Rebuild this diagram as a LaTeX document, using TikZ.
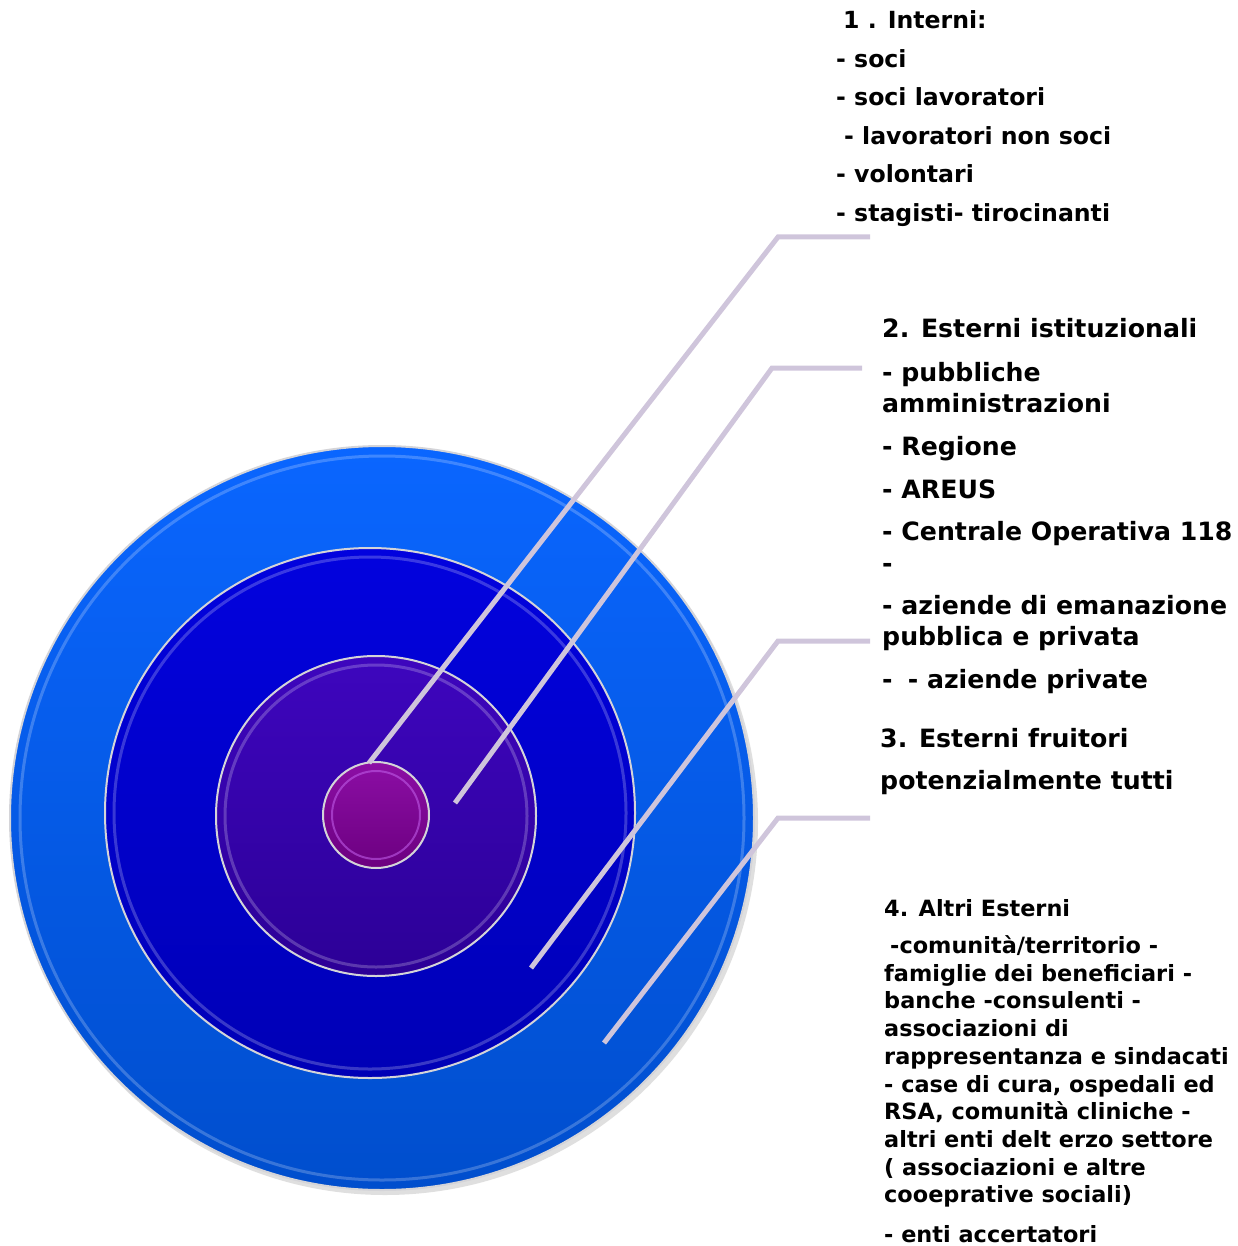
\documentclass[tikz,border=0pt]{standalone}
\usepackage{fontspec}
\setmainfont{DejaVu Sans}
\definecolor{rimgray}{HTML}{D4D4D8}
\definecolor{conncol}{HTML}{CFC5DB}
\begin{document}
\begin{tikzpicture}[x=1pt,y=-1pt,
  ring/.style={circle, draw=rimgray, line width=2pt, inner sep=0pt, outer sep=0pt},
  bevel/.style={draw=white, line width=3pt, opacity=0.22},
  conn/.style={draw=conncol, line width=5pt},
  tA/.style={anchor=base west, inner sep=0pt, font=\bfseries\fontsize{23.6}{28}\selectfont},
  tB/.style={anchor=base west, inner sep=0pt, font=\bfseries\fontsize{25.2}{30}\selectfont},
  tC/.style={anchor=base west, inner sep=0pt, font=\bfseries\fontsize{22.4}{27}\selectfont}]
\useasboundingbox (0,0) rectangle (1237,1246);
% circles
\fill[black!25, opacity=0.5] (385,822) circle[radius=373pt];
\node[ring, minimum size=744pt, top color={rgb,255:red,10;green,102;blue,255}, bottom color={rgb,255:red,0;green,78;blue,205}] (c4) at (382,818) {};
\draw[bevel] (382,818) circle[radius=362pt];
\node[ring, minimum size=530pt, top color={rgb,255:red,2;green,2;blue,222}, bottom color={rgb,255:red,0;green,0;blue,182}] (c3) at (370,813) {};
\draw[bevel] (370,813) circle[radius=256pt];
\node[ring, minimum size=320pt, top color={rgb,255:red,62;green,6;blue,190}, bottom color={rgb,255:red,44;green,0;blue,150}] (c2) at (376,816) {};
\draw[bevel] (376,816) circle[radius=151pt];
\node[ring, minimum size=106pt, top color={rgb,255:red,140;green,14;blue,165}, bottom color={rgb,255:red,108;green,0;blue,128}] (c1) at (376,815) {};
\draw[draw={rgb,255:red,190;green,90;blue,230}, line width=2pt, opacity=0.6] (376,815) circle[radius=44pt];
% connector coordinates
\coordinate (p1) at (369,763); \coordinate (k1) at (778,237); \coordinate (e1) at (870,237);
\coordinate (p2) at (455,803); \coordinate (k2) at (772,368); \coordinate (e2) at (862,368);
\coordinate (p3) at (531,968); \coordinate (k3) at (778,641); \coordinate (e3) at (870,641);
\coordinate (p4) at (604,1043); \coordinate (k4) at (778,818); \coordinate (e4) at (870,818);
\draw[conn] (p1) -- (k1) -- (e1);
\draw[conn] (p2) -- (k2) -- (e2);
\draw[conn] (p3) -- (k3) -- (e3);
\draw[conn] (p4) -- (k4) -- (e4);
% group 1
\node[tA] (a1) at (843,29) {1 . Interni:};
\node[tA] (a2) at (836,67.5) {- soci};
\node[tA] (a3) at (836,106) {- soci lavoratori};
\node[tA] (a4) at (844,144.5) {- lavoratori non soci};
\node[tA] (a5) at (836,183) {- volontari};
\node[tA] (a6) at (836,222) {- stagisti- tirocinanti};
% group 2
\node[tB] (b1) at (882,337) {2. Esterni istituzionali};
\node[tB] (b2) at (882,381) {- pubbliche};
\node[tB] (b3) at (882,412) {amministrazioni};
\node[tB] (b4) at (882,455) {- Regione};
\node[tB] (b5) at (882,498) {- AREUS};
\node[tB] (b6) at (882,540) {- Centrale Operativa 118};
\node[tB] (b7) at (882,572) {-};
\node[tB] (b8) at (882,614) {- aziende di emanazione};
\node[tB] (b9) at (882,645) {pubblica e privata};
\node[tB] (b10) at (882,688) {-\hspace{0.6em}- aziende private};
% group 3
\node[tB] (d1) at (880,747) {3. Esterni fruitori};
\node[tB] (d2) at (880,789) {potenzialmente tutti};
% group 4
\node[tC] (f1) at (884,916) {4. Altri Esterni};
\node[tC] (f2) at (890,953) {-comunità/territorio -};
\node[tC] (f3) at (884,981) {famiglie dei beneficiari -};
\node[tC] (f4) at (884,1008.5) {banche -consulenti -};
\node[tC] (f5) at (884,1036) {associazioni di};
\node[tC] (f6) at (884,1064) {rappresentanza e sindacati};
\node[tC] (f7) at (884,1092) {- case di cura, ospedali ed};
\node[tC] (f8) at (884,1119.5) {RSA, comunità cliniche -};
\node[tC] (f9) at (884,1147) {altri enti delt erzo settore};
\node[tC] (f10) at (884,1175) {( associazioni e altre};
\node[tC] (f11) at (884,1202.5) {cooeprative sociali)};
\node[tC] (f12) at (884,1242) {- enti accertatori};
\end{tikzpicture}
\end{document}
